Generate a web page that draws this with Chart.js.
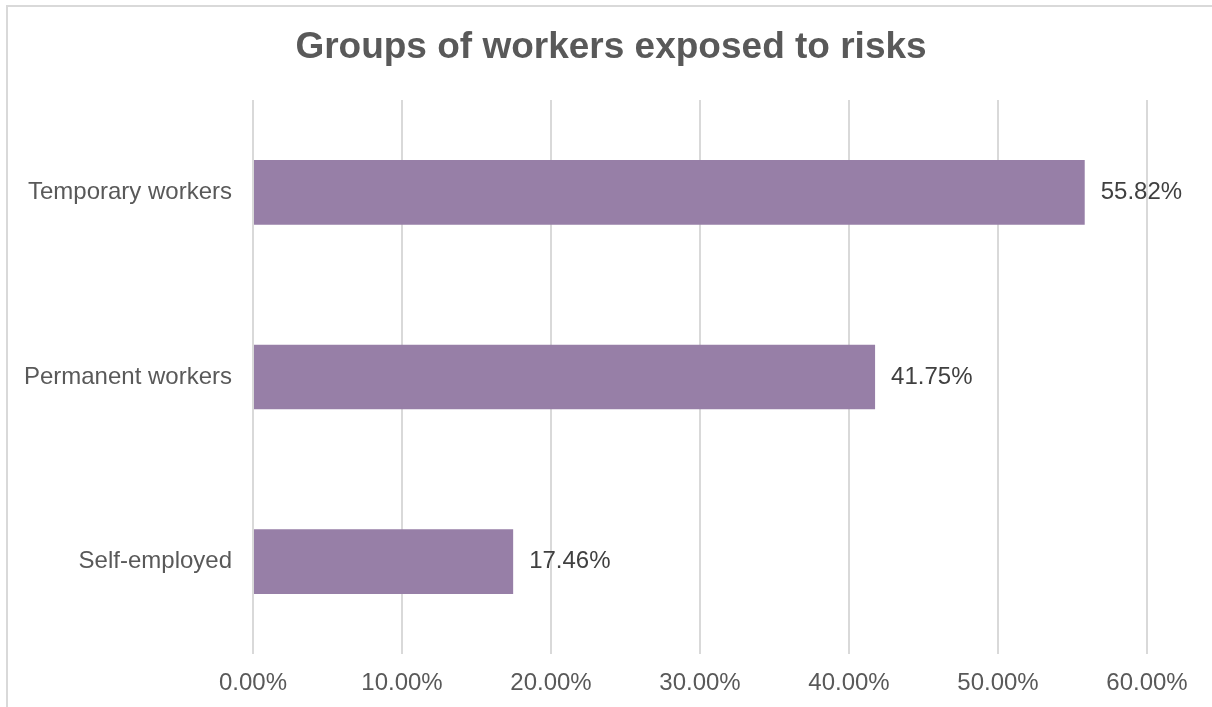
<!DOCTYPE html>
<html>
<head>
<meta charset="utf-8">
<script src="https://cdn.jsdelivr.net/npm/chart.js@4"></script>
<style>
html,body{margin:0;padding:0;background:#fff;}
#wrap{position:relative;width:1212px;height:707px;overflow:hidden;}
#frame{position:absolute;left:6px;top:5px;width:1300px;height:800px;border-left:2px solid #d9d9d9;border-top:2px solid #d9d9d9;}
canvas{position:absolute;left:0;top:0;}
</style>
</head>
<body>
<div id="wrap">
<div id="frame"></div>
<canvas id="chart" width="1212" height="707"></canvas>
</div>
<script>
const chartTitle = "Groups of workers exposed to risks";
const categories = ["Temporary workers","Permanent workers","Self-employed"];
const shares = [55.82, 41.75, 17.46];
const tickValues = [0,10,20,30,40,50,60];

const textGray = "#595959";
const fontFam = "'Liberation Sans', Arial, sans-serif";

// title + value labels drawn on the canvas
const labelPlugin = {
id:"labels",
afterDatasetsDraw(chart){
const c = chart.ctx;
const meta = chart.getDatasetMeta(0);
c.save();
c.font = "24px " + fontFam;
c.fillStyle = "#404040";
c.textAlign = "left";
c.textBaseline = "middle";
meta.data.forEach((bar,i)=>{
c.fillText(shares[i].toFixed(2)+"%", bar.x+16, bar.y);
});
c.font = "bold 37px " + fontFam;
c.fillStyle = textGray;
c.textAlign = "center";
c.fillText(chartTitle, 611, 48);
c.restore();
}
};

const ctx = document.getElementById("chart");

new Chart(ctx,{
type:"bar",
data:{
labels:categories,
datasets:[{
data:shares,
backgroundColor:"#977fa7",
borderWidth:0,
barPercentage:0.7,
categoryPercentage:0.5
}]
},
options:{
indexAxis:"y",
responsive:false,
animation:false,
layout:{padding:{top:100,right:65,bottom:0,left:0}},
plugins:{legend:{display:false},tooltip:{enabled:false},title:{display:false}},
scales:{
x:{
min:0,max:60,
afterBuildTicks(axis){ axis.ticks = tickValues.map(v=>({value:v})); },
afterFit(axis){ axis.height = 53; },
grid:{color:"#d9d9d9",lineWidth:2,drawTicks:false},
border:{display:false},
ticks:{padding:15,color:textGray,font:{size:24,family:fontFam},callback:v=>Number(v).toFixed(2)+"%"}
},
y:{
afterFit(axis){ axis.width = 253; },
grid:{display:false,drawTicks:false},
border:{display:false},
ticks:{padding:21,color:textGray,font:{size:24,family:fontFam}}
}
}
},
plugins:[labelPlugin]
});
</script>
</body>
</html>
